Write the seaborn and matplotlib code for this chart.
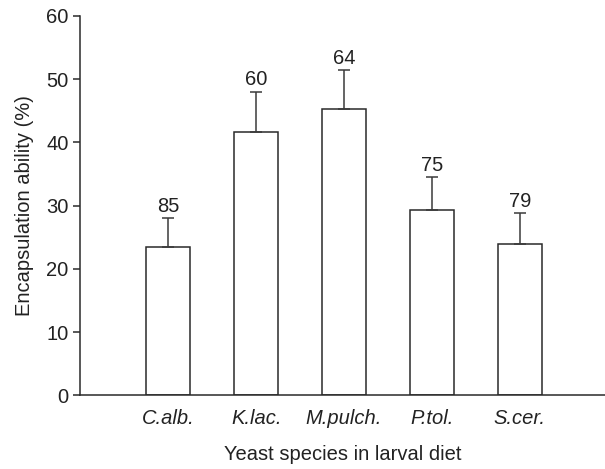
import matplotlib
matplotlib.use("Agg")
import matplotlib.pyplot as plt
import seaborn as sns
import numpy as np

categories = ["C.alb.", "K.lac.", "M.pulch.", "P.tol.", "S.cer."]
means = [23.5, 41.6, 45.3, 29.3, 23.9]
err_upper = [4.6, 6.45, 6.2, 5.2, 4.9]
n_labels = ["85", "60", "64", "75", "79"]

sns.set_style("ticks")
plt.rcParams['font.family'] = ['Liberation Sans', 'DejaVu Sans']

fig = plt.figure(figsize=(6.05, 4.69), dpi=100)
ax = fig.add_axes([0.1315, 0.157, 0.8685, 0.809])

edge = "#2a2a2a"
fs = 14.5
sns.barplot(x=categories, y=means, color="white", edgecolor=edge, linewidth=1.1,
            width=0.5, ax=ax, errorbar=None, saturation=1)

xs = np.arange(len(categories))
ax.errorbar(xs, means, yerr=[np.zeros(len(means)), err_upper], fmt="none",
            ecolor="#3a3a3a", elinewidth=1.1, capsize=4.3, capthick=1.1, zorder=1)
for x, m, e, lab in zip(xs, means, err_upper, n_labels):
    ax.annotate(lab, (x, m + e), xytext=(0, 1.5), textcoords="offset points",
                ha="center", va="bottom", fontsize=fs, color="#222222")

ax.set_ylim(0, 60)
ax.set_xlim(-1.01, 4.97)
ax.set_yticks([0, 10, 20, 30, 40, 50, 60])
sns.despine(ax=ax)
for s in ["left", "bottom"]:
    ax.spines[s].set_color(edge)
    ax.spines[s].set_linewidth(1.1)
ax.tick_params(axis="y", length=5, width=1.1, color=edge, labelsize=fs,
               labelcolor="#222222", pad=3)
ax.tick_params(axis="x", length=0, labelsize=fs, labelcolor="#222222", pad=10)
for t in ax.get_xticklabels():
    t.set_fontstyle("italic")
ax.set_ylabel("Encapsulation ability (%)", fontsize=fs, color="#222222", labelpad=9)
ax.set_xlabel("Yeast species in larval diet", fontsize=fs, color="#222222", labelpad=12)

fig.savefig("out.png", dpi=100)
